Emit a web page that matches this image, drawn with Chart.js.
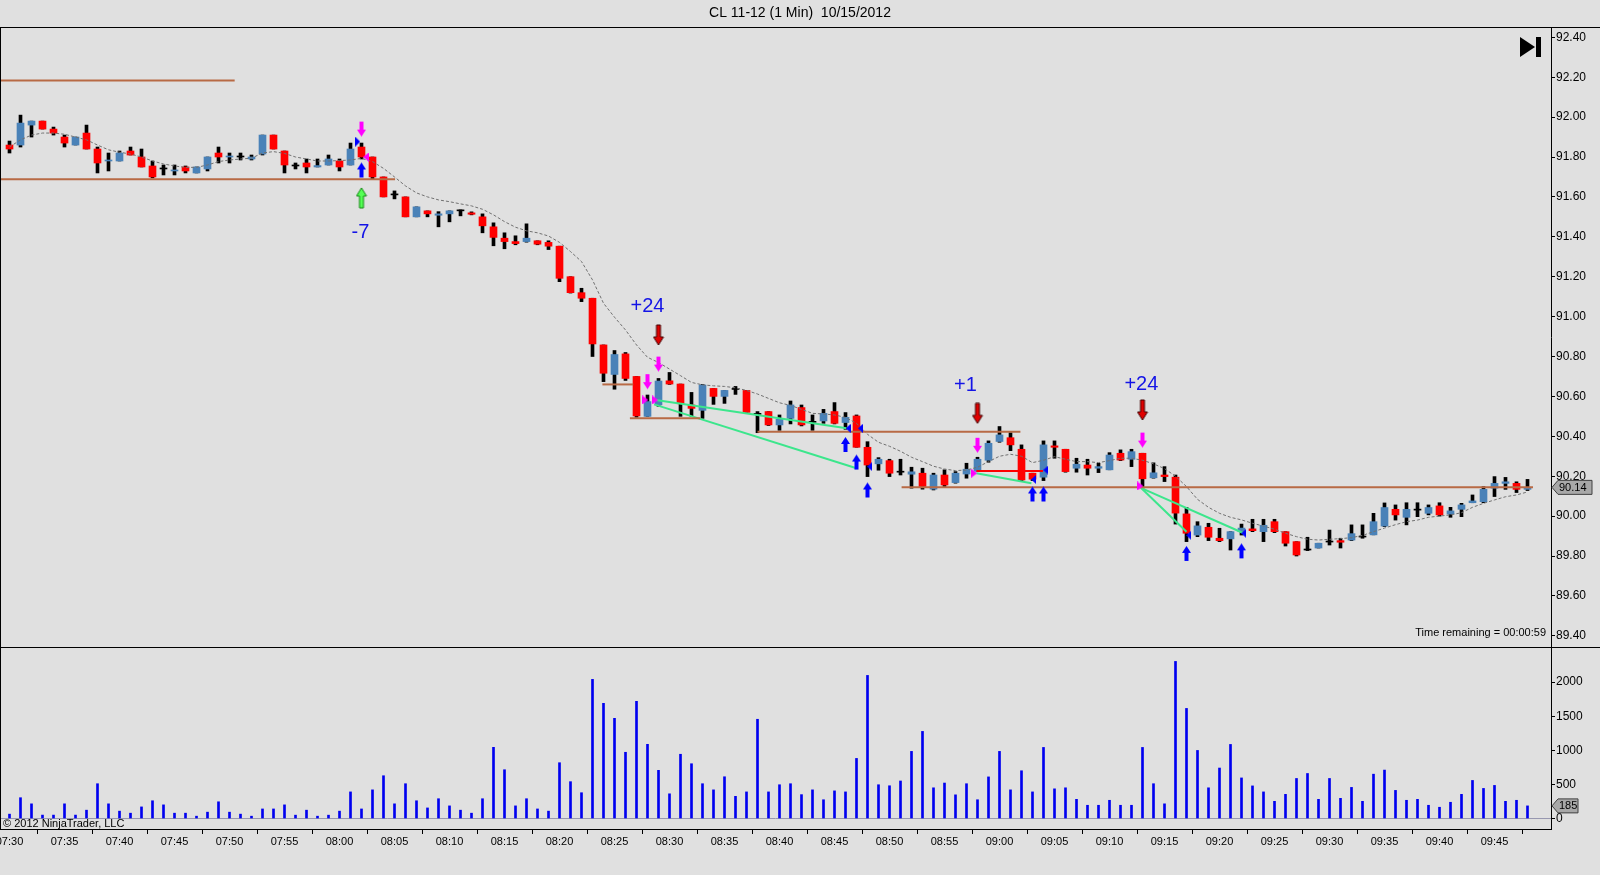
<!DOCTYPE html>
<html><head><meta charset="utf-8">
<script src="https://cdn.jsdelivr.net/npm/chart.js@4.4.0/dist/chart.umd.min.js"></script>
<style>
html,body{margin:0;padding:0;background:#E0E0E0;width:1600px;height:875px;overflow:hidden}
#wrap{position:relative;width:1600px;height:875px;background:#E0E0E0}
canvas{position:absolute;left:0}
#cMain{top:0}
#cVol{top:647px}
</style></head><body>
<div id="wrap"><canvas id="cMain" width="1600" height="647"></canvas><canvas id="cVol" width="1600" height="228"></canvas></div>
<script>
const TITLE = 'CL 11-12 (1 Min)  10/15/2012';
const TIME_LABELS = ["07:30","07:35","07:40","07:45","07:50","07:55","08:00","08:05","08:10","08:15","08:20","08:25","08:30","08:35","08:40","08:45","08:50","08:55","09:00","09:05","09:10","09:15","09:20","09:25","09:30","09:35","09:40","09:45"];
const PRICE_TICKS = [89.40,89.60,89.80,90.00,90.20,90.40,90.60,90.80,91.00,91.20,91.40,91.60,91.80,92.00,92.20,92.40];
const VOL_TICKS = [0,500,1000,1500,2000];

const OPEN = [91.86,91.86,91.96,91.98,91.94,91.90,91.86,91.92,91.84,91.78,
91.78,91.83,91.80,91.755,91.74,91.73,91.75,91.72,91.74,91.82,
91.80,91.80,91.79,91.815,91.91,91.83,91.755,91.77,91.75,91.76,
91.78,91.76,91.85,91.80,91.70,91.61,91.60,91.50,91.53,91.508,
91.515,91.53,91.52,91.50,91.45,91.393,91.376,91.376,91.38,91.372,
91.353,91.20,91.12,91.092,90.858,90.71,90.813,90.70,90.50,90.557,
90.678,90.662,90.557,90.53,90.64,90.60,90.635,90.63,90.51,90.524,
90.457,90.49,90.544,90.47,90.477,90.524,90.469,90.502,90.345,90.262,
90.278,90.22,90.21,90.215,90.135,90.206,90.168,90.211,90.225,90.28,
90.374,90.393,90.335,90.215,90.195,90.352,90.335,90.24,90.256,90.24,
90.232,90.315,90.285,90.315,90.192,90.206,90.195,90.011,89.905,89.944,
89.889,89.886,89.922,89.936,89.922,89.972,89.922,89.872,89.83,89.84,
89.87,89.877,89.88,89.895,89.906,89.95,90.034,89.994,90.03,90.014,
90.051,90.01,90.034,90.067,90.072,90.14,90.164,90.164,90.134];
const HIGH = [91.88,92.01,91.98,91.98,91.95,91.91,91.90,91.96,91.85,91.82,
91.83,91.85,91.84,91.78,91.76,91.76,91.755,91.75,91.80,91.85,
91.82,91.82,91.81,91.91,91.91,91.83,91.77,91.79,91.79,91.81,
91.79,91.87,91.87,91.80,91.70,91.63,91.60,91.55,91.53,91.526,
91.53,91.535,91.525,91.515,91.47,91.42,91.405,91.465,91.38,91.38,
91.353,91.20,91.142,91.092,90.858,90.83,90.82,90.70,90.607,90.69,
90.72,90.662,90.62,90.66,90.64,90.63,90.65,90.63,90.524,90.524,
90.507,90.577,90.557,90.507,90.535,90.569,90.519,90.507,90.373,90.293,
90.285,90.285,90.245,90.24,90.215,90.232,90.223,90.265,90.295,90.377,
90.449,90.418,90.357,90.215,90.377,90.377,90.335,90.29,90.285,90.265,
90.318,90.332,90.335,90.315,90.267,90.248,90.206,90.044,89.972,89.964,
89.939,89.922,89.96,89.984,89.984,89.984,89.922,89.872,89.894,89.864,
89.93,89.889,89.956,89.956,90.014,90.066,90.056,90.067,90.067,90.056,
90.067,90.044,90.064,90.106,90.148,90.198,90.194,90.172,90.184];
const LOW = [91.82,91.85,91.90,91.94,91.91,91.85,91.86,91.84,91.72,91.73,
91.78,91.81,91.75,91.695,91.71,91.71,91.72,91.72,91.73,91.77,
91.77,91.785,91.785,91.81,91.84,91.72,91.74,91.72,91.75,91.76,
91.73,91.76,91.79,91.69,91.60,91.59,91.50,91.50,91.50,91.45,
91.475,91.505,91.51,91.42,91.355,91.34,91.36,91.373,91.36,91.336,
91.175,91.118,91.075,90.80,90.674,90.636,90.68,90.495,90.50,90.55,
90.66,90.50,90.50,90.49,90.56,90.565,90.61,90.52,90.418,90.454,
90.43,90.462,90.452,90.43,90.465,90.462,90.435,90.345,90.198,90.23,
90.198,90.206,90.14,90.135,90.131,90.148,90.165,90.19,90.225,90.27,
90.37,90.328,90.178,90.178,90.178,90.29,90.22,90.22,90.206,90.218,
90.232,90.278,90.248,90.14,90.19,90.173,89.96,89.872,89.897,89.877,
89.872,89.83,89.905,89.922,89.872,89.917,89.85,89.80,89.827,89.84,
89.855,89.84,89.877,89.889,89.906,89.947,89.98,89.956,89.997,90.006,
90.0,89.994,89.997,90.067,90.067,90.098,90.134,90.118,90.128];
const CLOSE = [91.84,91.97,91.98,91.94,91.92,91.87,91.90,91.84,91.77,91.785,
91.82,91.81,91.75,91.70,91.74,91.735,91.73,91.75,91.80,91.80,
91.805,91.80,91.80,91.91,91.84,91.76,91.755,91.75,91.757,91.79,
91.75,91.84,91.80,91.70,91.60,91.61,91.50,91.55,91.515,91.515,
91.53,91.53,91.513,91.455,91.397,91.376,91.366,91.393,91.363,91.353,
91.192,91.12,91.092,90.863,90.716,90.81,90.69,90.502,90.574,90.677,
90.662,90.563,90.54,90.657,90.60,90.63,90.635,90.52,90.51,90.457,
90.485,90.557,90.457,90.47,90.515,90.465,90.495,90.345,90.256,90.285,
90.215,90.22,90.222,90.148,90.206,90.156,90.215,90.235,90.285,90.365,
90.407,90.357,90.181,90.185,90.357,90.345,90.223,90.26,90.24,90.248,
90.306,90.281,90.323,90.187,90.217,90.198,90.015,89.914,89.951,89.894,
89.877,89.922,89.94,89.927,89.954,89.922,89.864,89.805,89.83,89.864,
89.87,89.869,89.912,89.895,89.972,90.043,90.006,90.034,90.03,90.043,
90.006,90.026,90.056,90.076,90.134,90.164,90.172,90.134,90.144];
const VOLUME = [64,305,215,50,50,215,50,122,510,215,
108,78,170,260,200,78,78,34,93,245,
93,64,34,140,140,200,49,122,34,49,
108,390,140,420,627,215,510,260,155,290,
185,122,78,290,1044,715,185,290,140,108,
818,540,378,2040,1689,1469,971,1718,1088,706,
362,942,803,510,420,612,325,390,1455,390,
495,510,350,420,275,405,390,881,2098,495,
480,550,984,1277,450,520,347,510,275,610,
984,420,700,390,1042,435,450,281,194,194,
267,194,194,1042,510,215,2303,1614,998,450,
740,1086,595,478,390,252,354,587,660,281,
587,296,456,252,650,710,412,267,281,194,
165,238,354,558,441,485,252,267,185];
const MA = [91.85,91.886,91.91,91.92,91.92,91.914,91.90,91.886,91.86,91.836,
91.824,91.815,91.80,91.78,91.765,91.755,91.748,91.748,91.76,91.777,
91.785,91.79,91.794,91.82,91.827,91.818,91.80,91.79,91.78,91.78,
91.782,91.785,91.793,91.777,91.743,91.70,91.655,91.62,91.60,91.585,
91.576,91.565,91.555,91.538,91.51,91.476,91.448,91.43,91.42,91.404,
91.372,91.326,91.276,91.184,91.067,90.997,90.933,90.858,90.796,90.77,
90.737,90.704,90.67,90.658,90.653,90.65,90.643,90.63,90.612,90.59,
90.568,90.555,90.535,90.515,90.512,90.507,90.495,90.465,90.41,90.37,
90.35,90.325,90.295,90.273,90.25,90.236,90.228,90.231,90.245,90.273,
90.30,90.31,90.30,90.268,90.28,90.298,90.285,90.273,90.273,90.268,
90.278,90.29,90.29,90.28,90.262,90.238,90.2,90.148,90.084,90.044,
90.014,89.994,89.981,89.964,89.95,89.934,89.914,89.897,89.884,89.88,
89.884,89.887,89.892,89.903,89.922,89.94,89.957,89.972,89.98,89.994,
90.0,90.006,90.017,90.044,90.064,90.081,90.097,90.106,90.121];

// horizontal levels: [fromIndex, toIndex, price]
const BROWN_LEVELS = [[-0.9,20.47,92.183],[-0.9,35.05,91.688],[53.9,56.7,90.66],[56.4,62.8,90.49],[68.0,91.9,90.423],[81.1,138.5,90.145]];
const RED_LEVELS = [[87.9,93.95,90.226]];
// green segments: [x1, y1, x2, y2]
const GREEN_SEGMENTS = [[58.6,90.583,76.1,90.44],[58.6,90.56,77.0,90.24],[87.9,90.215,92.9,90.165],[102.9,90.14,107.0,89.922],[102.9,90.14,112.2,89.914]];
// markers: [index, price]
const MAGENTA_DOWN = [[32,91.94],[58,90.674],[59,90.762],[88,90.355],[103,90.381]];
const RED_DOWN = [[59,90.908],[88,90.515],[103,90.532]];
const BLUE_UP = [[32,91.735],[76,90.359],[77,90.271],[78,90.131],[93,90.111],[94,90.111],[107,89.813],[112,89.826]];
const GREEN_UP = [[32,91.595]];
const MAGENTA_RIGHT = [[57.8,90.582],[58.7,90.582],[87.7,90.215],[102.8,90.151]];
const MAGENTA_LEFT = [[32.4,91.80]];
const BLUE_RIGHT = [[31.65,91.877]];
const BLUE_LEFT = [[76.25,90.44],[77.35,90.44],[78.2,90.248],[93.1,90.184],[94.2,90.231],[107.2,89.904],[112.2,89.914]];
const PNL_TEXT = ['-7','+24','+1','+24'];
const PNL_POS = [[31.9,91.424],[58,91.05],[86.9,90.657],[102.9,90.66]];

const FONT = "'Liberation Sans', Arial, Helvetica, sans-serif";
Chart.defaults.font.family = FONT;
const UP_COLOR = '#4A82B8', DOWN_COLOR = '#FF0000', BROWN = '#B86A45', GREEN = '#3CE68C';
const X_MIN = -9.5/11, X_MAX = X_MIN + 1551/11;
const P_MAX = 92.40 + 10.3/199.5, P_MIN = P_MAX - 620/199.5;
const V_MAX = 171.5/0.0682, V_MIN = -10.5/0.0682;

const idx = OPEN.map((_, i) => i);
const bodyColors = idx.map(i => CLOSE[i] > OPEN[i] ? UP_COLOR : (CLOSE[i] < OPEN[i] ? DOWN_COLOR : '#000000'));

function arrow(dir, w, h, shaft, head, fill, stroke) {
  const c = document.createElement('canvas');
  c.width = w + 2; c.height = h + 2;
  const g = c.getContext('2d');
  g.translate(1, 1);
  if (dir === 'up') { g.translate(0, h); g.scale(1, -1); }
  const s0 = (w - shaft) / 2, s1 = (w + shaft) / 2, hy = h - head;
  g.beginPath();
  g.moveTo(s0, 0); g.lineTo(s1, 0); g.lineTo(s1, hy); g.lineTo(w, hy); g.lineTo(w / 2, h); g.lineTo(0, hy); g.lineTo(s0, hy); g.closePath();
  g.fillStyle = fill; g.fill();
  if (stroke) { g.lineWidth = 1; g.strokeStyle = stroke; g.stroke(); }
  return c;
}
function tri(dir, w, h, fill) {
  const c = document.createElement('canvas'); c.width = w; c.height = h;
  const g = c.getContext('2d'); g.beginPath();
  if (dir === 'right') { g.moveTo(0, 0); g.lineTo(w, h / 2); g.lineTo(0, h); }
  else { g.moveTo(w, 0); g.lineTo(0, h / 2); g.lineTo(w, h); }
  g.closePath(); g.fillStyle = fill; g.fill(); return c;
}
function markerSet(points, style) {
  return {type: 'line', showLine: false, data: points.map(p => ({x: p[0], y: p[1]})), pointStyle: style, pointRadius: 5, pointHoverRadius: 5, order: 0};
}
function seg(x1, y1, x2, y2, color, w) {
  return {type: 'line', data: [{x: x1, y: y1}, {x: x2, y: y2}], borderColor: color, borderWidth: w, pointRadius: 0, fill: false, tension: 0, order: 5};
}

const mainDatasets = [
  {type: 'bar', data: idx.map(i => ({x: i, y: [LOW[i], HIGH[i]]})), backgroundColor: '#000000', barThickness: 3, grouped: false, borderWidth: 0, order: 10},
  {type: 'bar', data: idx.map(i => ({x: i, y: [OPEN[i], CLOSE[i]]})), backgroundColor: bodyColors, barThickness: 7, grouped: false, borderWidth: 0, minBarLength: 1, order: 9},
  {type: 'line', data: idx.map(i => ({x: i, y: MA[i]})), borderColor: '#707070', borderWidth: 1, borderDash: [3, 2], pointRadius: 0, tension: 0, fill: false, order: 8}
];
BROWN_LEVELS.forEach(l => mainDatasets.push(seg(l[0], l[2], l[1], l[2], BROWN, 2)));
RED_LEVELS.forEach(l => mainDatasets.push(seg(l[0], l[2], l[1], l[2], '#FF0000', 2)));
GREEN_SEGMENTS.forEach(s => mainDatasets.push(seg(s[0], s[1], s[2], s[3], GREEN, 2)));
mainDatasets.push(markerSet(MAGENTA_DOWN, arrow('down', 9, 15, 4, 7, '#FF00FF')));
mainDatasets.push(markerSet(RED_DOWN, arrow('down', 10, 20, 4, 8, '#E00000', '#400000')));
mainDatasets.push(markerSet(BLUE_UP, arrow('up', 9, 15, 4, 7, '#0000FF')));
mainDatasets.push(markerSet(GREEN_UP, arrow('up', 10, 20, 4, 8, '#55FF55', '#118811')));
mainDatasets.push(markerSet(MAGENTA_RIGHT, tri('right', 6, 9, '#FF00FF')));
mainDatasets.push(markerSet(MAGENTA_LEFT, tri('left', 6, 9, '#FF00FF')));
mainDatasets.push(markerSet(BLUE_RIGHT, tri('right', 5, 10, '#0000FF')));
mainDatasets.push(markerSet(BLUE_LEFT, tri('left', 5, 9, '#0000FF')));

function tag(ctx, x, yv, w, text) {
  ctx.beginPath();
  ctx.moveTo(x + 1, yv); ctx.lineTo(x + 7, yv - 7); ctx.lineTo(x + w, yv - 7); ctx.lineTo(x + w, yv + 7); ctx.lineTo(x + 7, yv + 7); ctx.closePath();
  ctx.fillStyle = '#A8A8A8'; ctx.fill(); ctx.strokeStyle = '#404040'; ctx.lineWidth = 1; ctx.stroke();
  ctx.fillStyle = '#000'; ctx.font = '11px ' + FONT; ctx.textAlign = 'left'; ctx.textBaseline = 'middle';
  ctx.fillText(text, x + 8, yv + 0.5);
}

const mainDecor = {
  id: 'mainDecor',
  afterDraw(chart) {
    const {ctx, chartArea: a, scales: {x, y}} = chart;
    ctx.save();
    ctx.strokeStyle = '#000'; ctx.lineWidth = 1;
    ctx.beginPath(); ctx.moveTo(0, a.top + 0.5); ctx.lineTo(1600, a.top + 0.5);
    ctx.moveTo(0.5, a.top); ctx.lineTo(0.5, a.bottom); ctx.stroke();
    ctx.font = '20px ' + FONT; ctx.fillStyle = '#1414E6'; ctx.textAlign = 'center'; ctx.textBaseline = 'middle';
    PNL_TEXT.forEach((t, k) => ctx.fillText(t, x.getPixelForValue(PNL_POS[k][0]), y.getPixelForValue(PNL_POS[k][1])));
    ctx.fillStyle = '#000';
    ctx.beginPath(); ctx.moveTo(a.right - 31, a.top + 10); ctx.lineTo(a.right - 16, a.top + 20); ctx.lineTo(a.right - 31, a.top + 30); ctx.closePath(); ctx.fill();
    ctx.fillRect(a.right - 15, a.top + 10, 5, 20);
    ctx.font = '11px ' + FONT; ctx.textAlign = 'right'; ctx.textBaseline = 'middle';
    ctx.fillText('Time remaining = 00:00:59', a.right - 5, a.bottom - 14);
    tag(ctx, a.right, y.getPixelForValue(CLOSE[CLOSE.length - 1]), 41, CLOSE[CLOSE.length - 1].toFixed(2));
    ctx.restore();
  }
};

new Chart(document.getElementById('cMain'), {
  type: 'bar',
  data: {datasets: mainDatasets},
  options: {
    responsive: false, animation: false, devicePixelRatio: 1, events: [],
    layout: {padding: 0, autoPadding: false},
    plugins: {
      legend: {display: false}, tooltip: {enabled: false},
      title: {display: true, text: TITLE, color: '#000', font: {family: FONT, size: 14, weight: 'normal', lineHeight: 1.2}, padding: {top: 5, bottom: 5.2}}
    },
    scales: {
      x: {type: 'linear', min: X_MIN, max: X_MAX, display: false, offset: false},
      y: {type: 'linear', position: 'right', min: P_MIN, max: P_MAX,
        afterBuildTicks: s => { s.ticks = PRICE_TICKS.map(v => ({value: v})); },
        ticks: {stepSize: 0.2, includeBounds: false, callback: v => Number(v).toFixed(2), color: '#000', font: {size: 12}, padding: 1},
        grid: {drawOnChartArea: false, drawTicks: true, tickLength: 4, tickColor: '#000', color: '#000'},
        border: {display: true, color: '#000', width: 1},
        afterFit: s => { s.width = 49; s.paddingTop = 0; s.paddingBottom = 0; }}
    }
  },
  plugins: [mainDecor]
});

const volDecor = {
  id: 'volDecor',
  afterDraw(chart) {
    const {ctx, chartArea: a, scales: {yv}} = chart;
    ctx.save();
    ctx.strokeStyle = '#000'; ctx.lineWidth = 1;
    ctx.beginPath(); ctx.moveTo(0, 0.5); ctx.lineTo(1600, 0.5);
    ctx.moveTo(0.5, 0); ctx.lineTo(0.5, a.bottom); ctx.stroke();
    ctx.fillStyle = '#000'; ctx.font = '11px ' + FONT; ctx.textAlign = 'left'; ctx.textBaseline = 'middle';
    ctx.fillText('\u00A9 2012 NinjaTrader, LLC', 3, a.bottom - 5.5);
    tag(ctx, a.right, yv.getPixelForValue(VOLUME[VOLUME.length - 1]), 27, String(VOLUME[VOLUME.length - 1]));
    ctx.restore();
  }
};

new Chart(document.getElementById('cVol'), {
  type: 'bar',
  data: {datasets: [
    {type: 'bar', yAxisID: 'yv', data: idx.map(i => ({x: i, y: VOLUME[i]})), backgroundColor: '#0000F0', barThickness: 2, grouped: false, borderWidth: 0}
  ]},
  options: {
    responsive: false, animation: false, devicePixelRatio: 1, events: [],
    layout: {padding: 0, autoPadding: false},
    plugins: {legend: {display: false}, tooltip: {enabled: false}, title: {display: false}},
    scales: {
      x: {type: 'linear', position: 'bottom', min: X_MIN, max: X_MAX, offset: false,
        afterBuildTicks: s => { s.ticks = TIME_LABELS.map((_, k) => ({value: k * 5})); },
        ticks: {stepSize: 5, includeBounds: false, autoSkip: false, maxRotation: 0, minRotation: 0, color: '#000', font: {size: 11}, padding: 1,
          callback: v => TIME_LABELS[Math.round(v / 5)] || ''},
        grid: {drawOnChartArea: false, drawTicks: true, tickLength: 5, tickColor: '#000', color: '#000'},
        border: {display: true, color: '#000', width: 1},
        afterFit: s => { s.height = 46; s.paddingLeft = 0; s.paddingRight = 0; }},
      yv: {type: 'linear', position: 'right', min: V_MIN, max: V_MAX,
        afterBuildTicks: s => { s.ticks = VOL_TICKS.map(v => ({value: v})); },
        ticks: {stepSize: 500, includeBounds: false, color: '#000', font: {size: 12}, padding: 1, callback: v => String(v)},
        grid: {drawOnChartArea: true, drawTicks: true, tickLength: 4, tickColor: '#000',
          color: c => (c.tick && c.tick.value === 0) ? '#9898B0' : 'rgba(0,0,0,0)'},
        border: {display: true, color: '#000', width: 1},
        afterFit: s => { s.width = 49; s.paddingTop = 0; s.paddingBottom = 0; }}
    }
  },
  plugins: [volDecor]
});
</script>
</body></html>
